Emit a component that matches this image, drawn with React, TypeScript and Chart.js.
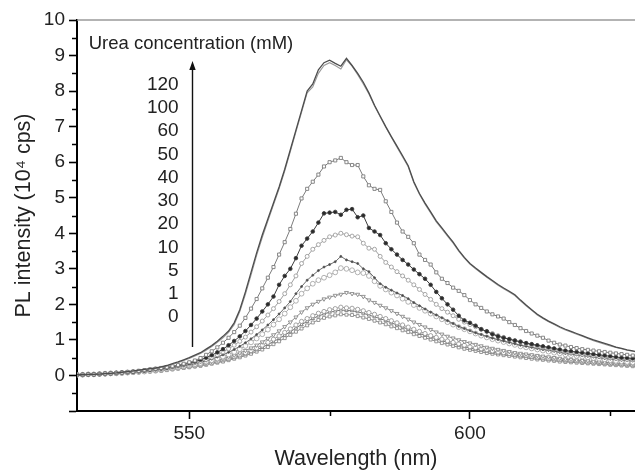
import React, { useEffect, useRef } from 'react';
import { Chart, registerables } from 'chart.js';

Chart.register(...registerables);

// Wavelength grid (nm)
const WAVELENGTHS = [
  530, 531, 532, 533, 534, 535, 536, 537, 538, 539, 540, 541, 542, 543, 544, 545, 546, 547, 548, 549,
  550, 551, 552, 553, 554, 555, 556, 557, 558, 559, 560, 561, 562, 563, 564, 565, 566, 567, 568, 569,
  570, 571, 572, 573, 574, 575, 576, 577, 578, 579, 580, 581, 582, 583, 584, 585, 586, 587, 588, 589,
  590, 591, 592, 593, 594, 595, 596, 597, 598, 599, 600, 601, 602, 603, 604, 605, 606, 607, 608, 609,
  610, 611, 612, 613, 614, 615, 616, 617, 618, 619, 620, 621, 622, 623, 624, 625, 626, 627, 628, 629, 630,
];

const CONCENTRATIONS = ['120', '100', '60', '50', '40', '30', '20', '10', '5', '1', '0'];

const I_120 = [
  0.02, 0.02, 0.03, 0.03, 0.04, 0.05, 0.06, 0.07, 0.09, 0.11, 0.13, 0.15, 0.17, 0.19, 0.21, 0.24, 0.28, 0.33, 0.38, 0.44,
  0.5, 0.57, 0.64, 0.74, 0.84, 0.96, 1.1, 1.25, 1.48, 1.85, 2.35, 2.9, 3.45, 3.95, 4.4, 4.85, 5.3, 5.8, 6.35, 6.9,
  7.45, 8.0, 8.2, 8.6, 8.8, 8.87, 8.78, 8.7, 8.92, 8.72, 8.5, 8.25, 7.95, 7.6, 7.3, 7.0, 6.72, 6.45, 6.18, 5.9,
  5.45, 5.12, 4.85, 4.6, 4.35, 4.15, 3.95, 3.75, 3.52, 3.32, 3.15, 3.02, 2.9, 2.78, 2.67, 2.56, 2.46, 2.37, 2.27, 2.12,
  1.98, 1.85, 1.72, 1.62, 1.53, 1.45, 1.37, 1.3, 1.24, 1.18, 1.12, 1.06, 1.0, 0.95, 0.9, 0.85, 0.8, 0.76, 0.72, 0.69, 0.66,
];
const I_100 = [
  0.02, 0.02, 0.03, 0.03, 0.04, 0.05, 0.06, 0.07, 0.08, 0.1, 0.12, 0.14, 0.16, 0.18, 0.2, 0.23, 0.27, 0.31, 0.36, 0.42,
  0.48, 0.55, 0.62, 0.71, 0.81, 0.93, 1.06, 1.21, 1.43, 1.8, 2.28, 2.82, 3.38, 3.88, 4.34, 4.8, 5.25, 5.75, 6.3, 6.85,
  7.4, 7.95, 8.12, 8.5, 8.72, 8.8, 8.72, 8.62, 8.88, 8.7, 8.46, 8.2, 7.92, 7.58, 7.28, 6.98, 6.7, 6.42, 6.15, 5.87,
  5.42, 5.1, 4.82, 4.57, 4.32, 4.12, 3.92, 3.72, 3.5, 3.3, 3.13, 3.0, 2.88, 2.76, 2.65, 2.54, 2.44, 2.35, 2.25, 2.1,
  1.96, 1.83, 1.7, 1.6, 1.51, 1.43, 1.35, 1.28, 1.22, 1.16, 1.1, 1.04, 0.98, 0.93, 0.88, 0.83, 0.79, 0.75, 0.71, 0.68, 0.65,
];
const I_60 = [
  0.02, 0.02, 0.03, 0.03, 0.04, 0.05, 0.06, 0.07, 0.08, 0.1, 0.11, 0.13, 0.15, 0.17, 0.19, 0.21, 0.23, 0.26, 0.29, 0.33,
  0.37, 0.42, 0.49, 0.58, 0.68, 0.79, 0.92, 1.06, 1.22, 1.4, 1.62, 1.88, 2.15, 2.45, 2.75, 3.05, 3.4, 3.75, 4.12, 4.55,
  4.98, 5.25, 5.45, 5.65, 5.88, 6.0, 6.05, 6.12, 6.0, 5.92, 5.92, 5.6, 5.35, 5.25, 5.22, 4.9, 4.6, 4.3, 4.05, 3.9,
  3.72, 3.4, 3.25, 3.12, 2.9, 2.72, 2.6, 2.47, 2.38, 2.26, 2.12, 2.0, 1.9, 1.8, 1.72, 1.66, 1.6, 1.5, 1.42, 1.33,
  1.25, 1.18, 1.12, 1.06, 0.98, 0.92, 0.87, 0.84, 0.8, 0.77, 0.74, 0.72, 0.7, 0.68, 0.66, 0.64, 0.62, 0.6, 0.58, 0.56, 0.55,
];
const I_50 = [
  0.02, 0.02, 0.03, 0.03, 0.04, 0.05, 0.06, 0.07, 0.08, 0.09, 0.1, 0.12, 0.14, 0.16, 0.18, 0.2, 0.22, 0.25, 0.28, 0.31,
  0.35, 0.39, 0.44, 0.5, 0.57, 0.65, 0.74, 0.85, 0.97, 1.1, 1.25, 1.42, 1.6, 1.8, 2.0, 2.22, 2.55, 2.8, 3.0, 3.3,
  3.65, 3.85, 4.05, 4.3, 4.56, 4.58, 4.6, 4.52, 4.66, 4.68, 4.45, 4.5, 4.15, 4.05, 3.95, 3.72, 3.55, 3.4, 3.25, 3.12,
  2.98, 2.85, 2.72, 2.55, 2.35, 2.17, 2.0, 1.85, 1.68, 1.55, 1.48, 1.4, 1.3, 1.24, 1.16, 1.1, 1.06, 1.02, 0.98, 0.95,
  0.91, 0.88, 0.85, 0.82, 0.79, 0.76, 0.73, 0.7, 0.68, 0.66, 0.64, 0.62, 0.6, 0.58, 0.56, 0.54, 0.52, 0.5, 0.49, 0.48, 0.47,
];
const I_40 = [
  0.02, 0.02, 0.03, 0.03, 0.04, 0.05, 0.06, 0.07, 0.08, 0.09, 0.1, 0.11, 0.13, 0.15, 0.17, 0.19, 0.21, 0.23, 0.26, 0.29,
  0.32, 0.36, 0.4, 0.45, 0.51, 0.58, 0.66, 0.75, 0.85, 0.96, 1.08, 1.22, 1.37, 1.53, 1.7, 1.88, 2.08, 2.3, 2.55, 2.8,
  3.15, 3.35, 3.55, 3.68, 3.8, 3.9, 3.95, 4.0, 3.96, 3.92, 3.9, 3.72, 3.58, 3.55, 3.35, 3.18, 3.05, 2.92, 2.8, 2.68,
  2.55, 2.42, 2.28, 2.14, 2.0, 1.88, 1.78, 1.68, 1.58, 1.5, 1.43, 1.37, 1.3, 1.24, 1.18, 1.12, 1.07, 1.02, 0.98, 0.94,
  0.9, 0.86, 0.82, 0.79, 0.76, 0.73, 0.7, 0.67, 0.64, 0.62, 0.6, 0.58, 0.56, 0.54, 0.52, 0.5, 0.48, 0.46, 0.45, 0.44, 0.43,
];
const I_30 = [
  0.02, 0.02, 0.03, 0.03, 0.04, 0.05, 0.06, 0.07, 0.08, 0.09, 0.1, 0.11, 0.12, 0.14, 0.16, 0.18, 0.2, 0.22, 0.24, 0.27,
  0.3, 0.33, 0.37, 0.41, 0.46, 0.52, 0.58, 0.65, 0.73, 0.82, 0.92, 1.03, 1.15, 1.28, 1.42, 1.57, 1.73, 1.9, 2.08, 2.3,
  2.5, 2.68, 2.82, 2.95, 3.05, 3.12, 3.2, 3.35, 3.25, 3.2, 3.15, 3.0, 2.92, 2.75, 2.58, 2.48, 2.4, 2.32, 2.25, 2.16,
  2.05, 1.96, 1.87, 1.78, 1.7, 1.62, 1.54, 1.46, 1.38, 1.32, 1.26, 1.2, 1.15, 1.1, 1.05, 1.01, 0.97, 0.93, 0.89, 0.85,
  0.82, 0.79, 0.76, 0.73, 0.71, 0.68, 0.65, 0.62, 0.6, 0.58, 0.56, 0.54, 0.52, 0.5, 0.48, 0.46, 0.45, 0.43, 0.42, 0.41, 0.4,
];
const I_20 = [
  0.02, 0.02, 0.03, 0.03, 0.04, 0.05, 0.06, 0.06, 0.07, 0.08, 0.09, 0.1, 0.11, 0.13, 0.15, 0.17, 0.19, 0.21, 0.23, 0.26,
  0.29, 0.32, 0.35, 0.39, 0.43, 0.48, 0.53, 0.59, 0.66, 0.74, 0.83, 0.93, 1.04, 1.16, 1.29, 1.43, 1.58, 1.74, 1.92, 2.1,
  2.3, 2.45, 2.58, 2.68, 2.75, 2.82, 2.9, 3.02, 3.0, 2.96, 2.9, 2.88, 2.8, 2.65, 2.52, 2.42, 2.33, 2.25, 2.16, 2.07,
  1.98, 1.9, 1.82, 1.74, 1.66, 1.58, 1.5, 1.43, 1.36, 1.3, 1.24, 1.18, 1.12, 1.07, 1.02, 0.98, 0.94, 0.9, 0.86, 0.82,
  0.79, 0.76, 0.73, 0.7, 0.67, 0.64, 0.62, 0.59, 0.57, 0.55, 0.53, 0.51, 0.49, 0.47, 0.45, 0.43, 0.41, 0.4, 0.38, 0.37, 0.36,
];
const I_10 = [
  0.02, 0.02, 0.03, 0.03, 0.04, 0.04, 0.05, 0.06, 0.07, 0.08, 0.09, 0.1, 0.11, 0.12, 0.14, 0.16, 0.18, 0.2, 0.22, 0.24,
  0.26, 0.29, 0.32, 0.35, 0.39, 0.43, 0.47, 0.52, 0.57, 0.63, 0.7, 0.77, 0.85, 0.94, 1.04, 1.14, 1.25, 1.37, 1.5, 1.64,
  1.78, 1.9, 2.0, 2.08, 2.15, 2.2, 2.25, 2.28, 2.33, 2.3, 2.28, 2.22, 2.12, 2.05, 1.97, 1.9, 1.82, 1.74, 1.66, 1.58,
  1.5, 1.43, 1.36, 1.29, 1.22, 1.16, 1.1, 1.05, 1.0, 0.95, 0.91, 0.87, 0.83, 0.79, 0.76, 0.73, 0.7, 0.67, 0.64, 0.62,
  0.6, 0.58, 0.56, 0.54, 0.52, 0.5, 0.48, 0.46, 0.45, 0.43, 0.42, 0.41, 0.39, 0.38, 0.37, 0.36, 0.35, 0.34, 0.33, 0.32, 0.31,
];
const I_5 = [
  0.02, 0.02, 0.03, 0.03, 0.04, 0.04, 0.05, 0.06, 0.07, 0.08, 0.09, 0.1, 0.11, 0.12, 0.13, 0.15, 0.17, 0.19, 0.21, 0.23,
  0.25, 0.27, 0.3, 0.33, 0.36, 0.4, 0.44, 0.48, 0.53, 0.58, 0.64, 0.7, 0.77, 0.85, 0.93, 1.02, 1.11, 1.21, 1.31, 1.42,
  1.52, 1.6, 1.68, 1.75, 1.8, 1.85, 1.88, 1.92, 1.9, 1.89, 1.86, 1.82, 1.77, 1.72, 1.66, 1.6, 1.54, 1.48, 1.42, 1.36,
  1.3, 1.24, 1.18, 1.12, 1.07, 1.02, 0.97, 0.93, 0.89, 0.85, 0.81, 0.78, 0.75, 0.72, 0.69, 0.66, 0.64, 0.62, 0.6, 0.58,
  0.56, 0.54, 0.52, 0.5, 0.48, 0.47, 0.45, 0.44, 0.42, 0.41, 0.4, 0.38, 0.37, 0.36, 0.35, 0.34, 0.33, 0.32, 0.31, 0.3, 0.29,
];
const I_1 = [
  0.02, 0.02, 0.02, 0.03, 0.03, 0.04, 0.05, 0.06, 0.07, 0.08, 0.09, 0.1, 0.11, 0.12, 0.13, 0.14, 0.16, 0.18, 0.2, 0.22,
  0.24, 0.26, 0.29, 0.32, 0.35, 0.38, 0.42, 0.46, 0.5, 0.55, 0.6, 0.66, 0.72, 0.79, 0.87, 0.95, 1.04, 1.13, 1.23, 1.33,
  1.43, 1.52, 1.6, 1.67, 1.73, 1.78, 1.81, 1.84, 1.83, 1.82, 1.79, 1.75, 1.7, 1.65, 1.6, 1.54, 1.48, 1.42, 1.36, 1.3,
  1.24, 1.18, 1.13, 1.08, 1.03, 0.98, 0.93, 0.89, 0.85, 0.81, 0.77, 0.74, 0.71, 0.68, 0.65, 0.63, 0.61, 0.59, 0.57, 0.55,
  0.53, 0.51, 0.49, 0.47, 0.46, 0.44, 0.43, 0.41, 0.4, 0.39, 0.38, 0.36, 0.35, 0.34, 0.33, 0.32, 0.31, 0.3, 0.29, 0.28, 0.27,
];
const I_0 = [
  0.02, 0.02, 0.02, 0.03, 0.03, 0.04, 0.05, 0.05, 0.06, 0.07, 0.08, 0.09, 0.1, 0.11, 0.12, 0.13, 0.15, 0.17, 0.19, 0.21,
  0.23, 0.25, 0.27, 0.3, 0.33, 0.36, 0.39, 0.43, 0.47, 0.51, 0.56, 0.61, 0.67, 0.73, 0.8, 0.88, 0.96, 1.05, 1.14, 1.23,
  1.32, 1.41, 1.49, 1.56, 1.62, 1.66, 1.69, 1.72, 1.71, 1.7, 1.67, 1.63, 1.59, 1.54, 1.49, 1.44, 1.38, 1.33, 1.27, 1.22,
  1.16, 1.11, 1.06, 1.01, 0.96, 0.91, 0.87, 0.83, 0.79, 0.75, 0.72, 0.69, 0.66, 0.63, 0.61, 0.59, 0.57, 0.55, 0.53, 0.51,
  0.49, 0.47, 0.45, 0.44, 0.42, 0.41, 0.39, 0.38, 0.37, 0.36, 0.35, 0.34, 0.33, 0.32, 0.31, 0.3, 0.29, 0.28, 0.27, 0.26, 0.25,
];

const SERIES = [I_120, I_100, I_60, I_50, I_40, I_30, I_20, I_10, I_5, I_1, I_0];

const X_TICKS = [550, 600];
const X_MINOR_TICKS = [575, 625];
const Y_TICKS = [-1, 0, 1, 2, 3, 4, 5, 6, 7, 8, 9, 10];
const Y_MINOR_TICKS = [-0.5, 0.5, 1.5, 2.5, 3.5, 4.5, 5.5, 6.5, 7.5, 8.5, 9.5];

const X_TITLE = 'Wavelength (nm)';
const Y_TITLE = 'PL intensity (10\u2074 cps)';
const LEGEND_TITLE = 'Urea concentration (mM)';

// series styles (index-aligned with SERIES)
const STYLES = [
  { color: '#4d4d4d', width: 1.3, point: 'circle', r: 0, fill: '#4d4d4d' },
  { color: '#9a9a9a', width: 1.1, point: 'circle', r: 0, fill: '#9a9a9a' },
  { color: '#7c7c7c', width: 1, point: 'rect', r: 2.2, fill: '#ffffff' },
  { color: '#3c3c3c', width: 1, point: 'circle', r: 1.8, fill: '#2a2a2a' },
  { color: '#9d9d9d', width: 1, point: 'circle', r: 2, fill: '#ffffff' },
  { color: '#5a5a5a', width: 0.9, point: 'circle', r: 1, fill: '#444444' },
  { color: '#a8a8a8', width: 1, point: 'circle', r: 2.4, fill: '#ffffff' },
  { color: '#8a8a8a', width: 1, point: 'triangle', r: 2.3, fill: '#ffffff' },
  { color: '#9a9a9a', width: 1, point: 'circle', r: 2.1, fill: '#ffffff' },
  { color: '#7a7a7a', width: 1, point: 'triangle', r: 2, fill: '#ffffff' },
  { color: '#8c8c8c', width: 1, point: 'rect', r: 2.1, fill: '#ffffff' },
];

const FONT = '"Liberation Sans", Arial, Helvetica, sans-serif';

const decorPlugin = {
  id: 'decor',
  afterDraw(chart: any) {
    const { ctx, chartArea } = chart;
    const xs = chart.scales.x;
    const ys = chart.scales.y;
    ctx.save();
    // top frame line
    ctx.strokeStyle = '#9a9a9a';
    ctx.lineWidth = 1.5;
    ctx.beginPath();
    ctx.moveTo(chartArea.left, chartArea.top);
    ctx.lineTo(chartArea.right, chartArea.top);
    ctx.stroke();

    // minor ticks
    ctx.strokeStyle = '#000';
    ctx.lineWidth = 1.5;
    ctx.beginPath();
    X_MINOR_TICKS.forEach((v) => {
      const px = Math.round(xs.getPixelForValue(v)) + 0.5;
      if (px <= chartArea.right) {
        ctx.moveTo(px, chartArea.bottom);
        ctx.lineTo(px, chartArea.bottom + 5);
      }
    });
    Y_MINOR_TICKS.forEach((v) => {
      const py = Math.round(ys.getPixelForValue(v)) + 0.5;
      ctx.moveTo(chartArea.left, py);
      ctx.lineTo(chartArea.left - 5, py);
    });
    ctx.stroke();

    // arrow
    const ax = Math.round(xs.getPixelForValue(550.45)) + 0.5;
    const ay0 = ys.getPixelForValue(0.8);
    const ay1 = ys.getPixelForValue(8.85);
    ctx.strokeStyle = '#111';
    ctx.lineWidth = 1.4;
    ctx.beginPath();
    ctx.moveTo(ax, ay0);
    ctx.lineTo(ax, ay1 + 6);
    ctx.stroke();
    ctx.fillStyle = '#111';
    ctx.beginPath();
    ctx.moveTo(ax, ay1);
    ctx.lineTo(ax - 3.2, ay1 + 9);
    ctx.lineTo(ax + 3.2, ay1 + 9);
    ctx.closePath();
    ctx.fill();

    // legend text
    ctx.fillStyle = '#222';
    ctx.font = `18.5px ${FONT}`;
    ctx.textAlign = 'center';
    ctx.textBaseline = 'middle';
    ctx.fillText(LEGEND_TITLE, xs.getPixelForValue(550.3), ys.getPixelForValue(9.34));

    ctx.font = `19px ${FONT}`;
    ctx.textAlign = 'right';
    CONCENTRATIONS.forEach((c, i) => {
      ctx.fillText(c, xs.getPixelForValue(548.1), ys.getPixelForValue(8.18 - i * 0.6535));
    });
    ctx.restore();
  },
};

export default function App() {
  const canvasRef = useRef<HTMLCanvasElement | null>(null);

  useEffect(() => {
    document.body.style.margin = '0';
    const canvas = canvasRef.current;
    if (!canvas) return;

    const datasets = SERIES.map((vals, i) => {
      const st = STYLES[i];
      return {
        label: CONCENTRATIONS[i],
        data: vals.map((v, j) => ({ x: WAVELENGTHS[j], y: v })),
        borderColor: st.color,
        borderWidth: st.width,
        pointStyle: st.point,
        pointRadius: st.r,
        pointBorderWidth: 0.9,
        pointBorderColor: st.color,
        pointBackgroundColor: st.fill,
        pointRotation: st.point === 'triangle' && i === 7 ? 180 : 0,
        tension: 0,
        fill: false,
      };
    });

    const chart = new Chart(canvas, {
      type: 'line',
      data: { datasets },
      plugins: [decorPlugin],
      options: {
        animation: false,
        responsive: false,
        maintainAspectRatio: false,
        layout: { autoPadding: false, padding: { top: 20, right: 0, left: 0, bottom: 0 } },
        plugins: {
          legend: { display: false },
          tooltip: { enabled: false },
        },
        scales: {
          x: {
            type: 'linear',
            min: 530,
            max: 629.4,
            afterBuildTicks: (scale: any) => {
              scale.ticks = X_TICKS.map((v) => ({ value: v }));
            },
            afterFit: (scale: any) => {
              scale.height = 59;
            },
            ticks: {
              color: '#222',
              font: { family: FONT, size: 19 },
              padding: 3,
              maxRotation: 0,
              autoSkip: false,
              callback: (v: any) => String(v),
            },
            grid: {
              display: true,
              drawOnChartArea: false,
              drawTicks: true,
              tickLength: 8,
              tickColor: '#000',
              tickWidth: 1.6,
            },
            border: { display: true, color: '#000', width: 2 },
            title: {
              display: true,
              text: X_TITLE,
              color: '#222',
              font: { family: FONT, size: 21.5, lineHeight: 1 },
              padding: { top: 0, bottom: 0 },
            },
          },
          y: {
            type: 'linear',
            min: -1,
            max: 10,
            afterBuildTicks: (scale: any) => {
              scale.ticks = Y_TICKS.map((v) => ({ value: v }));
            },
            afterFit: (scale: any) => {
              scale.width = 77;
            },
            ticks: {
              color: '#222',
              font: { family: FONT, size: 19 },
              padding: 4,
              autoSkip: false,
              callback: (v: any) => (v === -1 ? '' : String(v)),
            },
            grid: {
              display: true,
              drawOnChartArea: false,
              drawTicks: true,
              tickLength: 8,
              tickColor: '#000',
              tickWidth: 1.6,
            },
            border: { display: true, color: '#000', width: 2 },
            title: {
              display: true,
              text: Y_TITLE,
              color: '#222',
              font: { family: FONT, size: 21.5, lineHeight: 1 },
              padding: { top: 13, bottom: 0 },
            },
          },
        },
      },
    });

    return () => {
      chart.destroy();
    };
  }, []);

  return (
    <div style={{ width: 635, height: 470, background: '#fff' }}>
      <canvas ref={canvasRef} width={635} height={470} style={{ display: 'block', width: 635, height: 470 }} />
    </div>
  );
}
